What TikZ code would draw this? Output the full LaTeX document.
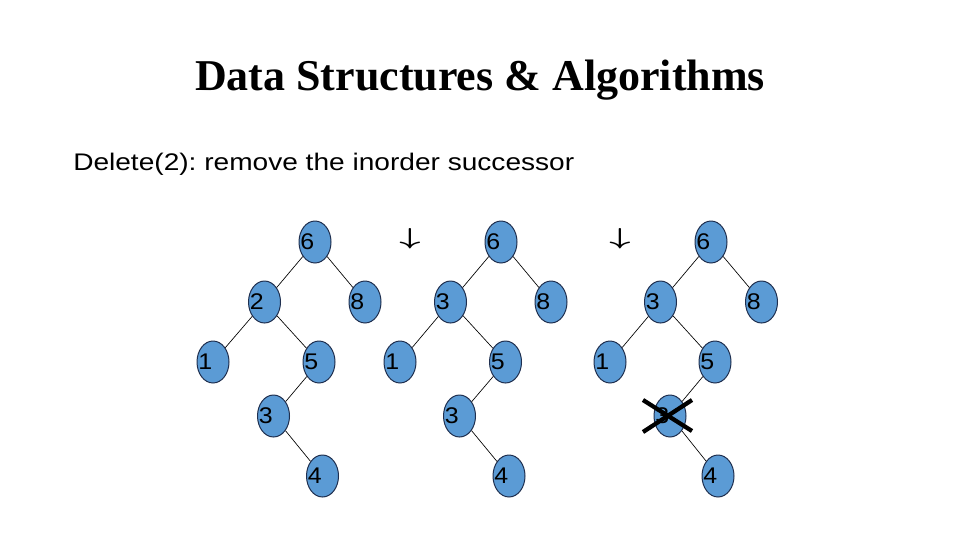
\documentclass[tikz,border=0pt]{standalone}
\usepackage{fontspec}
\setmainfont{Liberation Serif}
\setsansfont{Liberation Sans}
\usetikzlibrary{shapes.geometric}
\definecolor{nodefill}{HTML}{5B9BD5}
\definecolor{nodeline}{HTML}{1F2F4F}
\newcommand{\wdigit}[1]{\scalebox{1.1}[1]{#1}}
\newcommand{\bigdown}{\scalebox{1.6}[1]{\boldmath$\downarrow$}}
\tikzset{
  tnode/.style={ellipse, draw=nodeline, fill=nodefill, line width=0.75pt,
    minimum width=24pt, minimum height=31.5pt, inner sep=0pt,
    label={[anchor=west, inner sep=1.2pt, font=\sffamily\fontsize{17}{18}\selectfont]west:\wdigit{#1}}},
  edge/.style={draw=black, line width=0.5pt},
  downarrow/.style={font=\fontsize{17}{20}\selectfont, inner sep=0pt},
  cross/.style={line width=3.2pt, black}
}
\begin{document}
\begin{tikzpicture}[x=0.75pt, y=-0.75pt]
\useasboundingbox (0,0) rectangle (960,540);
\node[font=\bfseries\fontsize{33}{36}\selectfont] (title) at (480,80) {Data Structures \& Algorithms};
\node[anchor=base west, inner sep=0pt, font=\sffamily\fontsize{18}{20}\selectfont] (sub) at (73,170) {\frenchspacing\scalebox{1.17}[1]{Delete(2): remove the inorder successor}};

% tree 1
\node[tnode=6] (a6) at (315,242) {};
\node[tnode=2] (a2) at (264.5,302) {};
\node[tnode=8] (a8) at (365,302) {};
\node[tnode=1] (a1) at (213,362) {};
\node[tnode=5] (a5) at (319,362) {};
\node[tnode=3] (a3) at (273.5,416) {};
\node[tnode=4] (a4) at (322.5,476) {};
\draw[edge] (a6) -- (a2); \draw[edge] (a6) -- (a8);
\draw[edge] (a2) -- (a1); \draw[edge] (a2) -- (a5);
\draw[edge] (a5) -- (a3); \draw[edge] (a3) -- (a4);

\node[downarrow] (arr1) at (410,239) {\bigdown};

% tree 2
\node[tnode=6] (b6) at (501,242) {};
\node[tnode=3] (b3) at (450.5,302) {};
\node[tnode=8] (b8) at (551,302) {};
\node[tnode=1] (b1) at (400,362) {};
\node[tnode=5] (b5) at (505.5,362) {};
\node[tnode=3] (b3b) at (459.5,416) {};
\node[tnode=4] (b4) at (509,476) {};
\draw[edge] (b6) -- (b3); \draw[edge] (b6) -- (b8);
\draw[edge] (b3) -- (b1); \draw[edge] (b3) -- (b5);
\draw[edge] (b5) -- (b3b); \draw[edge] (b3b) -- (b4);

\node[downarrow] (arr2) at (620,239) {\bigdown};

% tree 3
\node[tnode=6] (c6) at (711,242) {};
\node[tnode=3] (c3) at (660.5,302) {};
\node[tnode=8] (c8) at (761.5,302) {};
\node[tnode=1] (c1) at (610,362) {};
\node[tnode=5] (c5) at (715,362) {};
\node[tnode=3] (c3b) at (670,416) {};
\node[tnode=4] (c4) at (718,476) {};
\draw[edge] (c6) -- (c3); \draw[edge] (c6) -- (c8);
\draw[edge] (c3) -- (c1); \draw[edge] (c3) -- (c5);
\draw[edge] (c5) -- (c3b); \draw[edge] (c3b) -- (c4);

\coordinate (x1) at (643,400); \coordinate (x2) at (692,431);
\coordinate (x3) at (643,432); \coordinate (x4) at (692,400);
\draw[cross] (x1) -- (x2);
\draw[cross] (x3) -- (x4);
\end{tikzpicture}
\end{document}
